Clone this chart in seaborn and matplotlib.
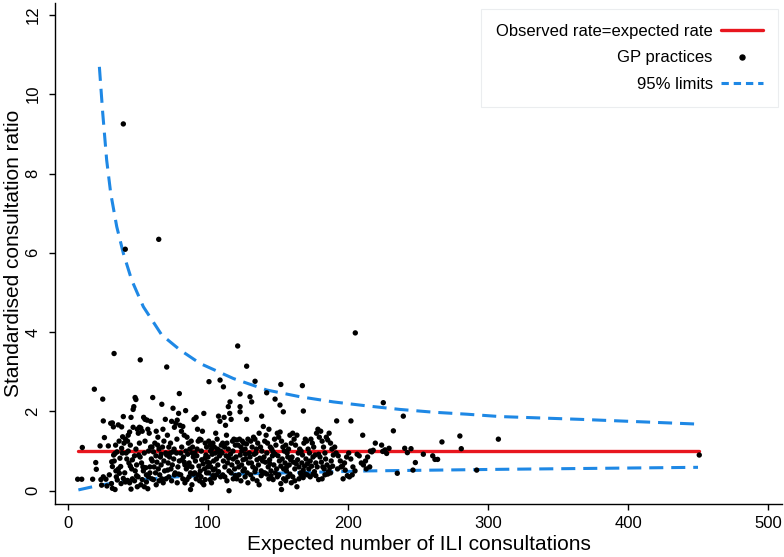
import matplotlib
matplotlib.use("Agg")
import matplotlib.pyplot as plt
from matplotlib.lines import Line2D
import seaborn as sns

# GP practices: expected ILI consultations vs standardised consultation ratio
practice_x = [
    6.9, 9.8, 10.2, 17.6, 18.8, 19.8, 20.2,
    22.9, 24.8, 25.2, 26.0, 27.1, 25.2, 24.0, 28.8, 23.5, 27.8, 29.5,
    30.5, 31.7, 32.4, 31.2, 31.7, 32.6, 33.6, 34.0, 31.0, 31.7, 33.6, 35.2, 34.5, 37.1, 37.6, 36.7,
    38.3, 39.0, 39.5, 38.3, 35.9, 37.9, 39.5, 32.9, 36.0, 35.0, 33.0, 38.8, 36.5, 34.2, 39.5,
    40.9, 40.0, 41.0, 42.5, 43.0, 44.0, 45.0, 46.5, 47.0, 47.9, 48.5, 41.5, 42.0, 43.5, 44.5, 45.5, 46.0,
    47.5, 48.0, 49.0, 41.0, 42.5, 44.0, 45.0, 46.0, 47.5, 49.5, 43.0, 48.5, 49.5, 40.5, 44.5, 46.5, 49.0,
    50.2, 51.0, 51.6, 52.0, 53.0, 54.0, 55.0, 56.5, 57.0, 58.0, 59.0, 50.5, 51.5, 52.5, 53.5, 54.5, 55.5,
    56.0, 57.5, 58.5, 59.5, 50.0, 52.0, 53.0, 54.5, 56.0, 57.0, 58.5, 59.0, 51.0, 55.0, 57.5, 53.8, 59.8,
    60.5, 64.8, 67.0, 60.0, 61.0, 62.0, 63.0, 64.0, 65.0, 66.0, 67.5, 68.5, 69.5, 61.5, 62.5, 63.5,
    64.5, 65.5, 66.5, 67.0, 68.0, 69.0, 61.0, 63.0, 65.0, 66.5, 68.5, 69.8, 62.8, 64.2, 67.8, 60.2,
    70.5, 71.0, 72.0, 73.0, 74.0, 75.0, 76.0, 77.0, 78.0, 79.0, 79.5, 70.5, 71.5, 72.5, 73.5, 74.5,
    75.5, 76.5, 77.5, 78.5, 79.5, 70.0, 72.0, 74.0, 76.0, 78.0, 79.0, 73.2, 75.8, 77.8, 71.2, 74.8,
    80.0, 81.0, 82.0, 83.0, 84.0, 85.0, 86.0, 87.0, 88.0, 89.0, 80.5, 81.5, 82.5, 83.5, 84.5, 85.5, 86.5,
    87.5, 88.5, 89.5, 80.5, 82.0, 83.5, 85.0, 86.5, 87.5, 88.5, 89.5, 81.2, 84.2, 86.8, 88.8, 83.0,
    90.0, 91.5, 92.5, 93.0, 94.0, 95.0, 96.0, 97.0, 98.0, 99.0, 90.5, 91.0, 92.0, 93.5, 94.5, 95.5, 96.5,
    97.5, 98.5, 99.5, 90.5, 91.5, 93.0, 94.0, 95.0, 96.0, 97.0, 98.0, 99.0, 92.2, 95.2, 97.8, 99.8, 93.8,
    100.7, 108.6, 100.5, 101.5, 102.5, 103.5, 104.5, 105.5, 106.5, 107.5, 108.5, 109.5, 100.0, 101.0,
    102.0, 103.0, 104.0, 105.0, 106.0, 107.0, 108.0, 109.0, 100.5, 101.5, 102.5, 103.5, 104.5, 106.0,
    107.5, 109.0, 105.2, 108.2, 103.8, 101.8, 106.8,
    111.0, 115.7, 114.5, 110.5, 111.5, 112.5, 113.5, 114.5, 115.5, 116.5, 117.5, 118.5, 119.5, 110.0,
    111.0, 112.0, 113.0, 114.0, 115.0, 116.0, 117.0, 118.0, 119.0, 110.5, 112.0, 113.5, 115.0, 116.5,
    118.0, 119.5, 111.8, 114.8, 117.8, 113.2,
    121.2, 127.6, 122.9, 122.9, 122.9, 127.6, 120.5, 121.5, 122.5, 123.5, 124.5, 125.5, 126.5, 127.5,
    128.5, 129.5, 120.0, 121.0, 122.0, 123.0, 124.0, 125.0, 126.0, 127.0, 128.0, 129.0, 120.5, 122.0,
    123.5, 125.0, 126.5, 128.5, 124.2, 126.8,
    130.0, 131.2, 133.6, 138.3, 130.5, 131.5, 132.5, 133.5, 134.5, 135.5, 136.5, 137.5, 138.5, 139.5,
    130.0, 131.0, 132.0, 133.0, 134.0, 135.0, 136.0, 137.0, 138.0, 139.0, 130.5, 132.0, 133.5, 135.0,
    136.5, 138.0, 139.5, 134.2,
    141.9, 147.9, 140.5, 141.5, 142.5, 143.5, 144.5, 145.5, 146.5, 147.5, 148.5, 149.5, 140.0, 141.0,
    142.0, 143.0, 144.0, 145.0, 146.0, 147.0, 148.0, 149.0, 140.5, 142.0, 143.5, 145.0, 146.5, 148.0,
    149.5, 144.2,
    152.0, 151.4, 153.8, 150.5, 151.5, 152.5, 153.5, 154.5, 155.5, 156.5, 157.5, 158.5, 159.5, 150.0,
    151.0, 152.0, 153.0, 154.0, 155.0, 156.0, 157.0, 158.0, 159.0, 150.5, 152.0, 152.5, 154.0, 155.5,
    157.0, 158.5, 159.5, 156.2,
    167.4, 168.1, 160.5, 161.5, 162.5, 163.5, 164.5, 165.5, 166.5, 167.5, 168.5, 169.5, 160.0, 161.0,
    162.0, 163.0, 164.0, 165.0, 166.0, 167.0, 168.0, 169.0, 160.5, 162.0, 163.5, 165.0, 166.5, 168.0, 169.5,
    170.5, 171.5, 172.5, 173.5, 174.5, 175.5, 176.5, 177.5, 178.5, 179.5, 170.0, 171.0, 172.0, 173.0,
    174.0, 175.0, 176.0, 177.0, 178.0, 179.0, 171.0, 173.0, 175.0, 177.0, 179.0,
    180.5, 181.5, 182.5, 183.5, 184.5, 185.5, 186.5, 187.5, 188.5, 189.5, 180.0, 181.0, 182.0, 183.0,
    184.0, 185.0, 186.0, 187.0, 188.0, 189.0, 181.5, 183.5, 185.5, 187.5,
    191.9, 190.5, 191.5, 193.0, 194.5, 196.0, 197.5, 199.0, 192.5, 195.0, 198.0, 199.5, 196.5,
    202.1, 205.2, 200.5, 202.0, 203.5, 205.0, 206.5, 208.0, 209.5, 211.0, 212.5, 214.0, 215.5, 217.0,
    225.2, 201.0, 203.0, 210.5, 213.0, 216.0, 219.5, 218.0,
    224.0, 226.4, 227.6, 229.3, 224.8, 232.4, 235.2, 239.5, 240.5, 242.4, 245.0, 246.4, 248.1, 253.8,
    260.5, 262.1, 264.0, 267.1, 279.9, 280.9, 291.9, 307.4, 450.9,
]
practice_y = [
    0.29, 0.29, 1.09, 0.29, 2.56, 0.71, 0.54,
    1.13, 2.31, 1.76, 1.34, 0.29, 0.35, 0.14, 1.13, 0.28, 0.12, 0.40,
    1.70, 1.71, 1.61, 0.73, 0.61, 0.90, 0.94, 1.15, 0.18, 0.06, 0.03, 0.27, 0.35, 0.82, 0.61, 0.44,
    1.07, 1.36, 1.87, 1.61, 1.66, 0.18, 0.31, 3.46, 0.55, 0.98, 0.75, 0.95, 1.25, 0.50, 9.25,
    6.09, 1.20, 1.30, 1.25, 1.40, 1.48, 1.85, 2.05, 2.12, 2.35, 2.30, 0.95, 0.80, 0.70, 0.62, 0.55, 0.78,
    0.88, 0.50, 0.65, 0.22, 0.26, 0.20, 0.04, 0.30, 0.25, 0.10, 1.00, 1.05, 1.55, 0.45, 1.15, 1.60, 0.38,
    1.45, 1.60, 3.30, 1.58, 1.50, 1.85, 1.80, 1.78, 1.55, 1.45, 1.75, 0.90, 0.85, 0.70, 0.60, 0.95, 0.58,
    0.40, 0.35, 0.60, 0.80, 0.35, 0.15, 0.28, 0.10, 0.22, 0.05, 0.45, 1.10, 1.20, 1.25, 1.00, 0.50, 0.30,
    2.35, 6.34, 2.18, 1.10, 0.98, 1.20, 1.50, 1.15, 1.05, 0.85, 1.10, 1.25, 1.80, 0.60, 0.45, 0.72,
    0.55, 0.40, 0.65, 0.30, 0.20, 0.50, 0.28, 0.15, 0.25, 0.92, 0.75, 0.95, 0.88, 1.35, 1.55, 0.75,
    3.12, 1.40, 1.10, 0.95, 1.75, 2.08, 1.60, 1.70, 1.78, 1.95, 2.45, 0.90, 0.70, 0.85, 0.55, 0.65,
    0.80, 0.45, 0.95, 0.60, 0.75, 0.30, 0.35, 0.25, 0.40, 0.20, 0.42, 1.20, 1.05, 1.30, 0.52, 0.98,
    1.65, 1.50, 1.62, 1.40, 2.02, 1.35, 1.20, 1.05, 1.25, 1.10, 0.95, 0.78, 0.85, 0.65, 0.55, 0.92, 0.70,
    0.45, 0.60, 0.85, 0.40, 0.30, 0.20, 0.28, 0.35, 0.03, 0.15, 0.42, 1.10, 1.00, 0.62, 0.95, 0.72,
    1.80, 1.85, 1.55, 1.25, 1.30, 1.28, 1.50, 1.95, 1.20, 1.10, 0.95, 0.75, 0.88, 0.62, 0.50, 0.78, 0.68,
    0.55, 0.90, 0.72, 0.45, 0.30, 0.40, 0.25, 0.35, 0.20, 0.15, 0.28, 0.45, 1.05, 1.00, 0.82, 0.60, 0.40,
    2.75, 2.79, 1.25, 1.15, 1.05, 1.20, 1.10, 1.45, 1.30, 1.88, 1.75, 1.15, 0.85, 0.70,
    0.60, 0.92, 0.75, 0.55, 0.80, 0.65, 0.98, 1.00, 0.45, 0.28, 0.20, 0.38, 0.32, 0.40,
    0.48, 0.35, 0.95, 0.88, 0.52, 1.00, 1.05,
    2.62, 2.24, 2.12, 1.20, 1.85, 1.65, 1.20, 1.05, 1.95, 1.80, 1.25, 1.30, 1.15, 0.95,
    0.75, 0.60, 0.88, 0.70, 0.50, 0.92, 0.65, 0.80, 0.55, 0.40, 0.35, 0.25, 0.00, 0.45,
    0.30, 0.38, 1.10, 0.82, 1.00, 1.40,
    3.65, 3.14, 2.44, 2.12, 1.99, 1.80, 1.28, 1.15, 1.30, 1.10, 1.25, 1.20, 1.05, 1.18,
    1.30, 0.95, 0.85, 0.72, 0.60, 0.90, 0.65, 0.78, 0.55, 0.80, 0.45, 0.70, 0.30, 0.40,
    0.25, 0.50, 0.35, 0.20, 1.00, 0.92,
    2.37, 2.24, 2.76, 1.88, 1.25, 1.10, 1.35, 1.30, 1.05, 1.20, 1.45, 1.10, 1.00, 1.62,
    0.85, 0.70, 0.60, 0.92, 0.55, 0.78, 0.65, 0.82, 0.50, 0.75, 0.40, 0.30, 0.48, 0.25,
    0.15, 0.38, 0.45, 0.95,
    2.47, 2.31, 1.25, 1.40, 1.20, 1.55, 1.10, 1.05, 0.98, 1.30, 1.15, 1.45, 0.85, 0.72,
    0.95, 0.60, 0.78, 0.50, 0.88, 0.65, 0.92, 0.55, 0.45, 0.42, 0.30, 0.38, 0.28, 0.45,
    0.35, 0.68,
    2.68, 2.16, 1.99, 1.35, 1.48, 1.25, 1.10, 1.00, 1.15, 0.95, 1.05, 1.40, 1.20, 0.88,
    0.75, 0.62, 0.80, 0.55, 0.70, 0.50, 0.85, 0.65, 0.78, 0.40, 0.18, 0.03, 0.30, 0.25,
    0.35, 0.42, 0.20, 0.60,
    2.65, 2.01, 1.45, 1.30, 1.15, 1.40, 0.95, 1.05, 1.00, 0.90, 1.20, 1.30, 0.85, 0.72,
    0.55, 0.68, 0.78, 0.60, 0.45, 0.70, 0.52, 0.62, 0.35, 0.25, 0.10, 0.30, 0.40, 0.33, 0.42,
    1.25, 1.05, 0.95, 1.30, 1.20, 1.10, 0.90, 1.45, 1.55, 1.35, 0.80, 0.68, 0.55, 0.75,
    0.62, 0.85, 0.48, 0.70, 0.60, 0.92, 0.40, 0.35, 0.42, 0.38, 0.28,
    1.50, 1.25, 1.10, 0.95, 1.35, 1.28, 1.45, 1.20, 1.05, 0.90, 0.85, 0.72, 0.60, 0.55,
    0.80, 0.65, 0.48, 0.58, 0.75, 0.62, 0.30, 0.40, 0.42, 0.45,
    1.76, 1.10, 0.95, 0.88, 0.75, 0.62, 0.70, 0.85, 0.55, 0.60, 0.52, 0.38, 0.30,
    1.76, 3.98, 0.95, 0.80, 0.60, 0.50, 0.92, 0.88, 0.70, 0.65, 0.75, 0.85, 0.60, 0.98,
    2.22, 0.35, 0.40, 1.40, 0.55, 1.00, 1.20, 1.02,
    1.15, 1.03, 0.94, 1.07, 0.99, 1.51, 0.44, 1.88, 1.07, 0.96, 1.06, 0.52, 0.71, 0.92,
    0.88, 0.79, 0.79, 1.23, 1.38, 1.06, 0.52, 1.30, 0.90,
]

# reference line (observed = expected) and 95% limits
ref_x = [7.0, 451.0]
ref_y = [1.0, 1.0]
upper_x = [22.4, 24.8, 27.6, 30.5, 34.8, 39.5, 45.5, 53.8, 66.9, 80.0, 94.3, 118.1, 141.9,
           165.7, 189.5, 213.3, 237.1, 261.0, 284.8, 308.6, 365.7, 450.0]
upper_y = [10.69, 9.52, 8.34, 7.50, 6.66, 5.99, 5.31, 4.64, 3.93, 3.55, 3.21, 2.83, 2.54,
           2.37, 2.24, 2.14, 2.05, 1.98, 1.93, 1.87, 1.80, 1.68]
lower_x = [7.4, 15.0, 22.9, 34.8, 49.0, 72.9, 95.0, 120.5, 168.0, 215.7, 263.4, 310.0, 366.0, 450.0]
lower_y = [0.02, 0.08, 0.14, 0.21, 0.27, 0.34, 0.38, 0.42, 0.46, 0.50, 0.52, 0.54, 0.56, 0.59]

red = "#E8161E"
blue = "#1E88E5"

sns.set_theme(style="ticks")
plt.rcParams["font.family"] = ["Liberation Sans", "DejaVu Sans"]
plt.rcParams["text.color"] = "black"
plt.rcParams["axes.labelcolor"] = "black"
plt.rcParams["xtick.color"] = "black"
plt.rcParams["ytick.color"] = "black"

fig = plt.figure(figsize=(7.84, 5.57), dpi=100)
ax = fig.add_axes([55 / 784, 53 / 557, 727 / 784, 501 / 557])

sns.lineplot(x=ref_x, y=ref_y, ax=ax, color=red, linewidth=2.4)
sns.scatterplot(x=practice_x, y=practice_y, ax=ax, color="black", s=15, edgecolor="none", zorder=3)
sns.lineplot(x=upper_x, y=upper_y, ax=ax, color=blue, linewidth=2.2,
             linestyle=(0, (4.6, 2.6)), sort=True)
sns.lineplot(x=lower_x, y=lower_y, ax=ax, color=blue, linewidth=2.2,
             linestyle=(0, (4.6, 2.6)), sort=True)

ax.set_xlim(-9.3, 510)
ax.set_ylim(-0.335, 12.3)
ax.set_xticks([0, 100, 200, 300, 400, 500])
ax.set_yticks([0, 2, 4, 6, 8, 10, 12])
sns.despine(ax=ax)
for side in ["left", "bottom"]:
    ax.spines[side].set_color("black")
    ax.spines[side].set_linewidth(1.0)
ax.tick_params(axis="both", labelsize=12, length=4.5, width=1.0, color="black", labelcolor="black")
ax.tick_params(axis="x", pad=4)
ax.tick_params(axis="y", pad=6)
for lab in ax.get_yticklabels():
    lab.set_rotation(90)
    lab.set_va("center")
ax.set_xlabel("Expected number of ILI consultations", fontsize=15, labelpad=3, color="black")
ax.set_ylabel("Standardised consultation ratio", fontsize=15, labelpad=2, color="black")

handles = [
    Line2D([], [], color=red, linewidth=2.4),
    Line2D([], [], color="black", marker="o", markersize=3.6, linestyle="none"),
    Line2D([], [], color=blue, linewidth=2.2, linestyle=(0, (2.4, 1.6))),
]
labels = ["Observed rate=expected rate", "GP practices", "95% limits"]
leg = ax.legend(handles, labels, loc="upper right", bbox_to_anchor=(0.994, 0.988),
                borderaxespad=0, markerfirst=False, fontsize=12, handlelength=2.5,
                handletextpad=0.5, labelspacing=0.68, frameon=True, fancybox=False,
                borderpad=0.9)
for t in leg.get_texts():
    t.set_ha("right")
    t.set_color("black")
leg.get_frame().set_edgecolor("#E6E9EC")
leg.get_frame().set_linewidth(0.8)

fig.savefig("out.png", dpi=100)
